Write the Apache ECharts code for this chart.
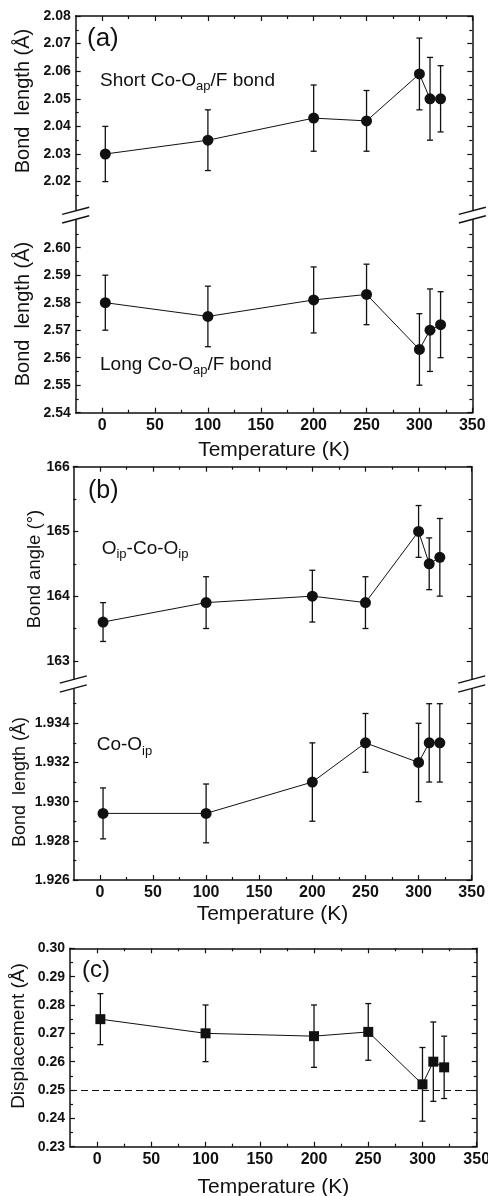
<!DOCTYPE html>
<html>
<head>
<meta charset="utf-8">
<script src="https://cdn.jsdelivr.net/npm/echarts@6/dist/echarts.min.js"></script>
<style>
html, body { margin: 0; padding: 0; background: #fff; }
#chart { width: 488px; height: 1196px; }
</style>
</head>
<body>
<div id="chart"></div>
<script>
const FONT = '"Liberation Sans", Arial, sans-serif';
const INK = '#111';

// temperatures (K), shared by all panels
const temps = [3, 100, 200, 250, 300, 310, 320];
const xMajor = [0, 50, 100, 150, 200, 250, 300, 350];
const xMinor = [25, 75, 125, 175, 225, 275, 325];

// (a) short Co-Oap/F bond
const shortBond = [2.030, 2.035, 2.043, 2.042, 2.059, 2.050, 2.050];
const shortLow = [2.020, 2.024, 2.031, 2.031, 2.046, 2.035, 2.038];
const shortHigh = [2.040, 2.046, 2.055, 2.053, 2.072, 2.065, 2.062];
const shortTicks = [2.02, 2.03, 2.04, 2.05, 2.06, 2.07, 2.08];
const shortMinor = [2.015, 2.025, 2.035, 2.045, 2.055, 2.065, 2.075];

// (a) long Co-Oap/F bond
const longBond = [2.580, 2.575, 2.581, 2.583, 2.563, 2.570, 2.572];
const longLow = [2.570, 2.564, 2.569, 2.572, 2.550, 2.555, 2.560];
const longHigh = [2.590, 2.586, 2.593, 2.594, 2.576, 2.585, 2.584];
const longTicks = [2.54, 2.55, 2.56, 2.57, 2.58, 2.59, 2.60];
const longMinor = [2.545, 2.555, 2.565, 2.575, 2.585, 2.595, 2.605];

// (b) Oip-Co-Oip angle
const angle = [163.6, 163.9, 164.0, 163.9, 165.0, 164.5, 164.6];
const angleLow = [163.3, 163.5, 163.6, 163.5, 164.6, 164.1, 164.0];
const angleHigh = [163.9, 164.3, 164.4, 164.3, 165.4, 164.9, 165.2];
const angleTicks = [163, 164, 165, 166];
const angleMinor = [163.5, 164.5, 165.5];

// (b) Co-Oip bond
const coOip = [1.9294, 1.9294, 1.9310, 1.9330, 1.9320, 1.9330, 1.9330];
const coOipLow = [1.9281, 1.9279, 1.9290, 1.9315, 1.9300, 1.9310, 1.9310];
const coOipHigh = [1.9307, 1.9309, 1.9330, 1.9345, 1.9340, 1.9350, 1.9350];
const coOipTicks = [1.926, 1.928, 1.930, 1.932, 1.934];
const coOipMinor = [1.927, 1.929, 1.931, 1.933, 1.935];

// (c) displacement
const disp = [0.275, 0.270, 0.269, 0.2705, 0.252, 0.260, 0.258];
const dispLow = [0.266, 0.260, 0.258, 0.2605, 0.239, 0.246, 0.247];
const dispHigh = [0.284, 0.280, 0.280, 0.2805, 0.265, 0.274, 0.269];
const dispTicks = [0.23, 0.24, 0.25, 0.26, 0.27, 0.28, 0.29, 0.30];
const dispMinor = [0.235, 0.245, 0.255, 0.265, 0.275, 0.285, 0.295];
const dispRef = 0.25;

const chart = echarts.init(document.getElementById('chart'));

const grids = [];
const xAxes = [];
const yAxes = [];
const series = [];
const graphics = [];

const axisLine = { show: true, onZero: false, lineStyle: { color: INK, width: 1.5 } };

function baseAxis(gi, extra) {
  return Object.assign({
    type: 'value',
    gridIndex: gi,
    splitLine: { show: false },
    axisLine: { show: false, onZero: false },
    axisLabel: { show: false },
    axisTick: { show: false }
  }, extra);
}

function ticks(values, len) {
  return { show: true, inside: true, length: len, customValues: values, lineStyle: { color: INK, width: 1.2 } };
}

function addPanel(p) {
  const gi = grids.length;
  grids.push({ left: p.left, top: p.top, width: p.width, height: p.height, containLabel: false, outerBoundsMode: 'none' });
  const xr = { min: -25, max: 350 };
  const yr = { min: p.yMin, max: p.yMax };
  const xi = xAxes.length;
  if (p.hasBottom) {
    xAxes.push(baseAxis(gi, Object.assign({
      position: 'bottom',
      axisLine: axisLine,
      axisTick: ticks(xMajor, 5),
      axisLabel: { show: true, customValues: xMajor, margin: 5, fontSize: 16, fontWeight: 'bold', fontFamily: FONT, color: INK },
      name: 'Temperature (K)',
      nameLocation: 'middle',
      nameGap: p.nameGap,
      nameMoveOverlap: false,
      nameTextStyle: { fontSize: 21, fontFamily: FONT, color: INK }
    }, xr)));
    xAxes.push(baseAxis(gi, Object.assign({ position: 'bottom', axisTick: ticks(xMinor, 3) }, xr)));
  } else {
    xAxes.push(baseAxis(gi, Object.assign({ position: 'bottom' }, xr)));
  }
  if (p.hasTop) {
    xAxes.push(baseAxis(gi, Object.assign({ position: 'top', axisLine: axisLine, axisTick: ticks(xMajor, 5) }, xr)));
    xAxes.push(baseAxis(gi, Object.assign({ position: 'top', axisTick: ticks(xMinor, 3) }, xr)));
  }
  const yi = yAxes.length;
  yAxes.push(baseAxis(gi, Object.assign({
    position: 'left',
    axisLine: axisLine,
    axisTick: ticks(p.yMajor, 5),
    axisLabel: {
      show: true, customValues: p.yMajor, margin: p.labelMargin,
      formatter: v => Number(v).toFixed(p.digits),
      fontSize: 14, fontWeight: 'bold', fontFamily: FONT, color: INK
    }
  }, yr)));
  yAxes.push(baseAxis(gi, Object.assign({ position: 'left', axisTick: ticks(p.yMinor, 3) }, yr)));
  yAxes.push(baseAxis(gi, Object.assign({ position: 'right', axisLine: axisLine, axisTick: ticks(p.yMajor, 5) }, yr)));
  yAxes.push(baseAxis(gi, Object.assign({ position: 'right', axisTick: ticks(p.yMinor, 3) }, yr)));
  return { xi: xi, yi: yi };
}

function errorBar(params, api) {
  const t = api.value(0);
  const lo = api.coord([t, api.value(1)]);
  const hi = api.coord([t, api.value(2)]);
  const w = 3;
  const style = { stroke: INK, lineWidth: 1.3 };
  return {
    type: 'group',
    children: [
      { type: 'line', shape: { x1: lo[0], y1: lo[1], x2: hi[0], y2: hi[1] }, style: style },
      { type: 'line', shape: { x1: lo[0] - w, y1: lo[1], x2: lo[0] + w, y2: lo[1] }, style: style },
      { type: 'line', shape: { x1: hi[0] - w, y1: hi[1], x2: hi[0] + w, y2: hi[1] }, style: style }
    ]
  };
}

function addData(ax, ys, lo, hi, symbol, size, extra) {
  series.push({
    type: 'custom',
    xAxisIndex: ax.xi,
    yAxisIndex: ax.yi,
    silent: true,
    z: 2,
    clip: false,
    data: temps.map((t, i) => [t, lo[i], hi[i]]),
    encode: { x: 0, y: [1, 2] },
    renderItem: errorBar
  });
  series.push(Object.assign({
    type: 'line',
    xAxisIndex: ax.xi,
    yAxisIndex: ax.yi,
    z: 3,
    silent: true,
    data: temps.map((t, i) => [t, ys[i]]),
    symbol: symbol,
    symbolSize: size,
    showAllSymbol: true,
    itemStyle: { color: INK, borderWidth: 0 },
    lineStyle: { color: INK, width: 1 }
  }, extra || {}));
}

// broken-axis slashes
function breakMarks(xs, yUp, yLow) {
  xs.forEach(x => {
    [yUp + 0.5, yLow - 0.5].forEach(y => {
      graphics.push({
        type: 'line',
        shape: { x1: x - 13.5, y1: y + 3.6, x2: x + 13.5, y2: y - 3.6 },
        style: { stroke: INK, lineWidth: 1.5 }
      });
    });
  });
}

const measureCtx = document.createElement('canvas').getContext('2d');
function textWidth(str, size) {
  measureCtx.font = size + 'px ' + FONT;
  return measureCtx.measureText(str).width;
}

function plainText(x, y, text, size, rotate) {
  graphics.push({
    type: 'text',
    x: x,
    y: y,
    rotation: rotate ? Math.PI / 2 : 0,
    style: {
      text: text, fontSize: size, fontFamily: FONT, fill: INK,
      textAlign: rotate ? 'center' : 'left', align: rotate ? 'center' : 'left',
      textVerticalAlign: 'middle', verticalAlign: 'middle'
    }
  });
}

// text with subscripts, positioned by baseline
function subLabel(x, baseline, parts, size, subSize, drop) {
  let cx = x;
  parts.forEach(part => {
    const isSub = part[1];
    const fs = isSub ? subSize : size;
    const base = isSub ? baseline + drop : baseline;
    plainText(cx, base - 0.3465 * fs, part[0], fs, false);
    cx += textWidth(part[0], fs);
  });
}

// panel (a)
const aTop = addPanel({ left: 75.7, top: 16, width: 396.6, height: 194.3, yMin: 2.0096, yMax: 2.08,
  yMajor: shortTicks, yMinor: shortMinor, digits: 2, labelMargin: 5, hasTop: true, hasBottom: false });
const aBot = addPanel({ left: 75.7, top: 219.9, width: 396.6, height: 192.8, yMin: 2.54, yMax: 2.6101,
  yMajor: longTicks, yMinor: longMinor, digits: 2, labelMargin: 5, hasTop: false, hasBottom: true, nameGap: 27.5 });
addData(aTop, shortBond, shortLow, shortHigh, 'circle', 11);
addData(aBot, longBond, longLow, longHigh, 'circle', 11);
breakMarks([75.7, 472.3], 210.3, 219.9);

// panel (b)
const bTop = addPanel({ left: 73.3, top: 466.7, width: 398.4, height: 212.3, yMin: 162.72, yMax: 166,
  yMajor: angleTicks, yMinor: angleMinor, digits: 0, labelMargin: 3.5, hasTop: true, hasBottom: false });
const bBot = addPanel({ left: 73.3, top: 689, width: 398.4, height: 191, yMin: 1.926, yMax: 1.93575,
  yMajor: coOipTicks, yMinor: coOipMinor, digits: 3, labelMargin: 3.5, hasTop: false, hasBottom: true, nameGap: 23.5 });
addData(bTop, angle, angleLow, angleHigh, 'circle', 11);
addData(bBot, coOip, coOipLow, coOipHigh, 'circle', 11);
breakMarks([73.3, 471.7], 679, 689);

// panel (c)
const cAx = addPanel({ left: 70, top: 948.3, width: 406.7, height: 198.4, yMin: 0.23, yMax: 0.30,
  yMajor: dispTicks, yMinor: dispMinor, digits: 2, labelMargin: 5, hasTop: true, hasBottom: true, nameGap: 30.5 });
addData(cAx, disp, dispLow, dispHigh, 'rect', 10, {
  markLine: {
    silent: true,
    symbol: 'none',
    label: { show: false },
    lineStyle: { type: [7, 4], color: INK, width: 1 },
    data: [{ yAxis: dispRef }]
  }
});

// axis titles
plainText(23, 101, 'Bond  length (\u00c5)', 20, true);
plainText(23, 314, 'Bond  length (\u00c5)', 20, true);
plainText(35, 569, 'Bond angle (\u00b0)', 18.5, true);
plainText(20, 782, 'Bond  length (\u00c5)', 18, true);
plainText(19, 1036, 'Displacement (\u00c5)', 19, true);

// panel letters
plainText(87, 38.8, '(a)', 26, false);
plainText(88, 491, '(b)', 25, false);
plainText(82, 970.2, '(c)', 24, false);

// annotations
subLabel(100, 87.3, [['Short Co-O', false], ['ap', true], ['/F bond', false]], 19, 13, 3.5);
subLabel(100, 371.5, [['Long Co-O', false], ['ap', true], ['/F bond', false]], 19, 13, 3.5);
subLabel(101.7, 555, [['O', false], ['ip', true], ['-Co-O', false], ['ip', true]], 19, 13, 4);
subLabel(96.7, 751.7, [['Co-O', false], ['ip', true]], 19, 13, 4);

chart.setOption({
  animation: false,
  backgroundColor: '#fff',
  grid: grids,
  xAxis: xAxes,
  yAxis: yAxes,
  series: series,
  graphic: graphics
});
</script>
</body>
</html>
